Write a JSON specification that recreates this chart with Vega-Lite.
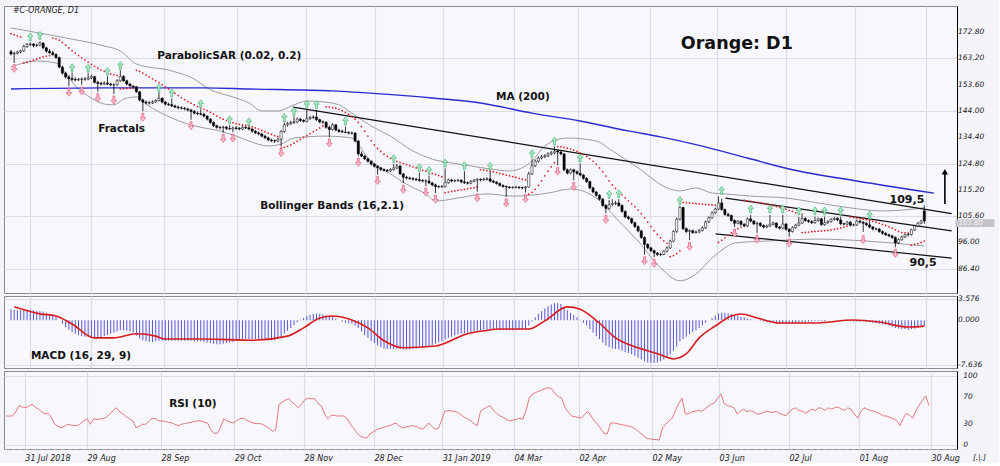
{
"$schema":"https://vega.github.io/schema/vega-lite/v6.json",
"background":"#f4f4fa",
"padding":{"left":3,"top":5,"right":4,"bottom":0},
"spacing":3,
"bounds":"flush",
"datasets":{
"c":[
{"i":0,"o":165.6,"h":166.3,"l":164.2,"c":164.8,"s":172.2,"m":1.9,"r":42},
{"i":1,"o":164.8,"h":165.6,"l":161.5,"c":165.0,"s":171.8,"m":1.8,"r":42},
{"i":2,"o":165.0,"h":166.0,"l":164.6,"c":165.5,"s":171.4,"m":1.7,"r":42},
{"i":3,"o":165.5,"h":166.4,"l":165.0,"c":165.9,"s":171.0,"m":1.7,"r":48},
{"i":4,"o":165.9,"h":168.2,"l":165.6,"c":167.5,"s":161.5,"m":1.8,"r":57},
{"i":5,"o":167.5,"h":168.8,"l":167.0,"c":168.3,"s":161.8,"m":1.8,"r":55},
{"i":6,"o":168.3,"h":168.9,"l":167.6,"c":168.4,"s":162.1,"m":1.8,"r":54},
{"i":7,"o":168.4,"h":168.8,"l":167.2,"c":167.9,"s":162.5,"m":1.7,"r":56},
{"i":8,"o":167.9,"h":168.6,"l":167.3,"c":168.0,"s":162.9,"m":1.6,"r":59},
{"i":9,"o":168.0,"h":169.4,"l":167.6,"c":168.8,"s":163.3,"m":1.6,"r":55},
{"i":10,"o":168.8,"h":169.0,"l":166.5,"c":167.0,"s":163.7,"m":1.5,"r":52},
{"i":11,"o":167.0,"h":167.5,"l":165.2,"c":165.8,"s":164.0,"m":1.3,"r":48},
{"i":12,"o":165.8,"h":166.6,"l":164.8,"c":165.2,"s":164.2,"m":1.1,"r":45},
{"i":13,"o":165.2,"h":165.9,"l":164.1,"c":164.6,"s":170.6,"m":0.9,"r":46},
{"i":14,"o":164.6,"h":165.0,"l":163.0,"c":163.5,"s":170.3,"m":0.6,"r":40},
{"i":15,"o":163.5,"h":163.8,"l":159.5,"c":160.0,"s":169.8,"m":0.0,"r":30},
{"i":16,"o":160.0,"h":160.5,"l":157.2,"c":157.8,"s":169.0,"m":-0.6,"r":27},
{"i":17,"o":157.8,"h":158.3,"l":155.8,"c":156.4,"s":168.0,"m":-1.2,"r":25},
{"i":18,"o":156.4,"h":157.0,"l":153.0,"c":155.8,"s":167.0,"m":-1.6,"r":27},
{"i":19,"o":155.8,"h":158.0,"l":155.0,"c":155.5,"s":166.0,"m":-2.0,"r":30},
{"i":20,"o":155.5,"h":156.3,"l":154.8,"c":155.3,"s":165.1,"m":-2.3,"r":29},
{"i":21,"o":155.3,"h":156.0,"l":154.9,"c":155.5,"s":164.2,"m":-2.5,"r":28},
{"i":22,"o":155.5,"h":156.2,"l":153.5,"c":155.6,"s":163.4,"m":-2.7,"r":28},
{"i":23,"o":155.6,"h":156.3,"l":155.0,"c":155.6,"s":162.6,"m":-2.8,"r":31},
{"i":24,"o":155.6,"h":157.8,"l":155.2,"c":156.0,"s":161.8,"m":-2.8,"r":35},
{"i":25,"o":156.0,"h":157.2,"l":155.6,"c":156.5,"s":161.0,"m":-2.8,"r":38},
{"i":26,"o":156.5,"h":156.8,"l":154.0,"c":154.4,"s":160.3,"m":-3.0,"r":30},
{"i":27,"o":154.4,"h":155.0,"l":151.0,"c":154.0,"s":159.6,"m":-3.0,"r":38},
{"i":28,"o":154.0,"h":154.7,"l":153.3,"c":153.8,"s":159.0,"m":-2.9,"r":37},
{"i":29,"o":153.8,"h":154.8,"l":153.4,"c":154.2,"s":158.4,"m":-2.7,"r":38},
{"i":30,"o":154.2,"h":156.6,"l":153.4,"c":153.8,"s":157.9,"m":-2.5,"r":38},
{"i":31,"o":153.8,"h":154.3,"l":153.0,"c":153.5,"s":157.5,"m":-2.3,"r":41},
{"i":32,"o":153.5,"h":154.0,"l":150.2,"c":153.5,"s":157.2,"m":-2.1,"r":45},
{"i":33,"o":153.5,"h":155.6,"l":153.2,"c":155.0,"s":157.0,"m":-1.9,"r":50},
{"i":34,"o":155.0,"h":158.8,"l":154.6,"c":156.6,"s":152.0,"m":-1.7,"r":54},
{"i":35,"o":156.6,"h":157.0,"l":154.6,"c":155.0,"s":152.1,"m":-1.7,"r":48},
{"i":36,"o":155.0,"h":155.4,"l":153.4,"c":153.8,"s":152.2,"m":-1.8,"r":45},
{"i":37,"o":153.8,"h":154.2,"l":152.8,"c":153.1,"s":152.3,"m":-1.9,"r":41},
{"i":38,"o":153.1,"h":153.4,"l":152.5,"c":152.8,"s":152.4,"m":-2.1,"r":38},
{"i":39,"o":152.8,"h":153.0,"l":150.6,"c":151.0,"s":158.8,"m":-2.6,"r":35},
{"i":40,"o":151.0,"h":151.3,"l":147.5,"c":148.0,"s":158.4,"m":-3.1,"r":25},
{"i":41,"o":148.0,"h":148.5,"l":143.9,"c":147.2,"s":157.8,"m":-3.4,"r":27},
{"i":42,"o":147.2,"h":147.8,"l":146.4,"c":146.9,"s":157.1,"m":-3.6,"r":30},
{"i":43,"o":146.9,"h":147.6,"l":146.3,"c":146.9,"s":156.4,"m":-3.7,"r":30},
{"i":44,"o":146.9,"h":147.9,"l":146.5,"c":147.3,"s":155.7,"m":-3.7,"r":34},
{"i":45,"o":147.3,"h":148.3,"l":146.9,"c":147.8,"s":155.0,"m":-3.6,"r":39},
{"i":46,"o":147.8,"h":150.8,"l":147.4,"c":148.6,"s":154.3,"m":-3.5,"r":38},
{"i":47,"o":148.6,"h":149.0,"l":146.8,"c":147.2,"s":153.6,"m":-3.5,"r":35},
{"i":48,"o":147.2,"h":147.7,"l":146.0,"c":146.5,"s":152.8,"m":-3.5,"r":35},
{"i":49,"o":146.5,"h":147.0,"l":145.8,"c":146.3,"s":152.0,"m":-3.5,"r":34},
{"i":50,"o":146.3,"h":148.6,"l":145.4,"c":145.8,"s":151.2,"m":-3.5,"r":33},
{"i":51,"o":145.8,"h":146.3,"l":145.0,"c":145.4,"s":150.4,"m":-3.5,"r":32},
{"i":52,"o":145.4,"h":145.9,"l":144.6,"c":145.1,"s":149.6,"m":-3.5,"r":30},
{"i":53,"o":145.1,"h":145.7,"l":144.5,"c":145.0,"s":148.8,"m":-3.5,"r":28},
{"i":54,"o":145.0,"h":145.5,"l":144.2,"c":144.7,"s":148.1,"m":-3.5,"r":30},
{"i":55,"o":144.7,"h":145.2,"l":143.8,"c":144.3,"s":147.4,"m":-3.5,"r":31},
{"i":56,"o":144.3,"h":144.8,"l":140.8,"c":143.8,"s":146.8,"m":-3.5,"r":32},
{"i":57,"o":143.8,"h":144.3,"l":142.7,"c":143.2,"s":146.2,"m":-3.6,"r":33},
{"i":58,"o":143.2,"h":143.8,"l":142.5,"c":143.0,"s":145.6,"m":-3.6,"r":34},
{"i":59,"o":143.0,"h":144.6,"l":142.3,"c":142.8,"s":145.1,"m":-3.6,"r":35},
{"i":60,"o":142.8,"h":143.3,"l":141.6,"c":142.1,"s":144.6,"m":-3.7,"r":35},
{"i":61,"o":142.1,"h":142.4,"l":140.5,"c":141.0,"s":144.1,"m":-3.8,"r":33},
{"i":62,"o":141.0,"h":141.4,"l":139.3,"c":139.8,"s":143.5,"m":-3.9,"r":32},
{"i":63,"o":139.8,"h":140.2,"l":138.1,"c":138.6,"s":142.8,"m":-4.0,"r":22},
{"i":64,"o":138.6,"h":139.0,"l":137.5,"c":138.0,"s":142.1,"m":-4.1,"r":17},
{"i":65,"o":138.0,"h":138.5,"l":137.2,"c":137.9,"s":141.5,"m":-4.1,"r":17},
{"i":66,"o":137.9,"h":138.6,"l":136.0,"c":138.1,"s":141.0,"m":-4.0,"r":25},
{"i":67,"o":138.1,"h":138.5,"l":137.0,"c":137.6,"s":140.5,"m":-3.9,"r":38},
{"i":68,"o":137.6,"h":138.9,"l":137.0,"c":137.4,"s":140.1,"m":-3.8,"r":35},
{"i":69,"o":137.4,"h":138.3,"l":136.2,"c":137.8,"s":139.7,"m":-3.7,"r":33},
{"i":70,"o":137.8,"h":138.4,"l":137.1,"c":137.6,"s":139.4,"m":-3.5,"r":32},
{"i":71,"o":137.6,"h":138.1,"l":136.9,"c":137.4,"s":139.1,"m":-3.4,"r":35},
{"i":72,"o":137.4,"h":138.5,"l":137.0,"c":138.0,"s":138.9,"m":-3.3,"r":38},
{"i":73,"o":138.0,"h":138.4,"l":137.3,"c":137.8,"s":138.7,"m":-3.2,"r":39},
{"i":74,"o":137.8,"h":138.3,"l":136.9,"c":137.4,"s":138.5,"m":-3.2,"r":36},
{"i":75,"o":137.4,"h":137.8,"l":136.1,"c":136.6,"s":138.2,"m":-3.2,"r":34},
{"i":76,"o":136.6,"h":137.0,"l":135.5,"c":136.0,"s":137.8,"m":-3.2,"r":32},
{"i":77,"o":136.0,"h":136.5,"l":135.1,"c":135.6,"s":137.4,"m":-3.3,"r":31},
{"i":78,"o":135.6,"h":136.0,"l":134.3,"c":134.8,"s":136.9,"m":-3.3,"r":31},
{"i":79,"o":134.8,"h":135.3,"l":133.7,"c":134.2,"s":136.4,"m":-3.4,"r":30},
{"i":80,"o":134.2,"h":134.6,"l":132.9,"c":133.4,"s":135.9,"m":-3.4,"r":27},
{"i":81,"o":133.4,"h":133.9,"l":132.6,"c":133.1,"s":135.4,"m":-3.4,"r":24},
{"i":82,"o":133.1,"h":133.6,"l":132.3,"c":133.0,"s":135.0,"m":-3.4,"r":20},
{"i":83,"o":133.0,"h":134.2,"l":132.6,"c":133.7,"s":134.7,"m":-3.2,"r":22},
{"i":84,"o":133.7,"h":137.0,"l":131.0,"c":136.5,"s":130.4,"m":-2.8,"r":59},
{"i":85,"o":136.5,"h":139.8,"l":136.0,"c":138.9,"s":130.7,"m":-2.3,"r":62},
{"i":86,"o":138.9,"h":140.0,"l":138.3,"c":139.4,"s":131.1,"m":-1.8,"r":65},
{"i":87,"o":139.4,"h":140.4,"l":138.8,"c":139.8,"s":131.6,"m":-1.3,"r":67},
{"i":88,"o":139.8,"h":142.0,"l":139.2,"c":140.0,"s":132.2,"m":-0.8,"r":62},
{"i":89,"o":140.0,"h":141.6,"l":139.5,"c":141.0,"s":132.9,"m":-0.3,"r":58},
{"i":90,"o":141.0,"h":141.5,"l":140.0,"c":140.5,"s":133.6,"m":0.1,"r":54},
{"i":91,"o":140.5,"h":141.0,"l":139.7,"c":140.2,"s":134.3,"m":0.4,"r":60},
{"i":92,"o":140.2,"h":144.5,"l":139.8,"c":141.2,"s":135.0,"m":0.7,"r":66},
{"i":93,"o":141.2,"h":142.2,"l":140.7,"c":141.6,"s":135.7,"m":0.9,"r":68},
{"i":94,"o":141.6,"h":142.4,"l":141.0,"c":141.8,"s":136.4,"m":1.1,"r":67},
{"i":95,"o":141.8,"h":144.4,"l":140.3,"c":140.8,"s":137.1,"m":1.1,"r":67},
{"i":96,"o":140.8,"h":141.2,"l":139.5,"c":140.0,"s":137.8,"m":1.1,"r":60},
{"i":97,"o":140.0,"h":140.5,"l":139.3,"c":139.9,"s":138.5,"m":1.0,"r":57},
{"i":98,"o":139.9,"h":140.2,"l":137.5,"c":138.0,"s":145.5,"m":0.8,"r":45},
{"i":99,"o":138.0,"h":138.6,"l":134.5,"c":137.2,"s":145.4,"m":0.6,"r":38},
{"i":100,"o":137.2,"h":139.5,"l":136.8,"c":138.9,"s":145.2,"m":0.6,"r":43},
{"i":101,"o":138.9,"h":139.2,"l":136.6,"c":137.0,"s":145.0,"m":0.3,"r":43},
{"i":102,"o":137.0,"h":137.5,"l":136.0,"c":136.5,"s":144.6,"m":0.0,"r":42},
{"i":103,"o":136.5,"h":137.2,"l":135.8,"c":136.3,"s":144.1,"m":-0.2,"r":42},
{"i":104,"o":136.3,"h":138.3,"l":135.8,"c":136.1,"s":143.5,"m":-0.4,"r":42},
{"i":105,"o":136.1,"h":136.6,"l":135.4,"c":135.9,"s":142.8,"m":-0.5,"r":38},
{"i":106,"o":135.9,"h":136.5,"l":135.3,"c":135.9,"s":142.0,"m":-0.6,"r":30},
{"i":107,"o":135.9,"h":136.2,"l":132.5,"c":133.0,"s":141.0,"m":-0.9,"r":24},
{"i":108,"o":133.0,"h":133.4,"l":127.5,"c":128.3,"s":139.8,"m":-1.3,"r":17},
{"i":109,"o":128.3,"h":129.2,"l":127.1,"c":127.5,"s":138.3,"m":-1.9,"r":13},
{"i":110,"o":127.5,"h":127.9,"l":126.0,"c":126.5,"s":136.6,"m":-2.5,"r":11},
{"i":111,"o":126.5,"h":126.9,"l":125.1,"c":125.6,"s":134.8,"m":-3.0,"r":10},
{"i":112,"o":125.6,"h":126.0,"l":124.1,"c":124.6,"s":133.1,"m":-3.5,"r":16},
{"i":113,"o":124.6,"h":125.0,"l":123.3,"c":123.8,"s":131.6,"m":-3.9,"r":19},
{"i":114,"o":123.8,"h":124.2,"l":120.8,"c":123.2,"s":130.3,"m":-4.3,"r":22},
{"i":115,"o":123.2,"h":123.6,"l":122.1,"c":122.6,"s":129.2,"m":-4.6,"r":24},
{"i":116,"o":122.6,"h":123.0,"l":121.8,"c":122.3,"s":128.2,"m":-4.8,"r":25},
{"i":117,"o":122.3,"h":122.8,"l":121.6,"c":122.1,"s":127.4,"m":-4.9,"r":27},
{"i":118,"o":122.1,"h":123.1,"l":121.7,"c":122.6,"s":126.7,"m":-4.9,"r":28},
{"i":119,"o":122.6,"h":124.6,"l":122.2,"c":123.2,"s":126.1,"m":-4.9,"r":30},
{"i":120,"o":123.2,"h":124.6,"l":122.8,"c":123.9,"s":125.6,"m":-4.8,"r":32},
{"i":121,"o":123.9,"h":124.2,"l":120.6,"c":121.0,"s":125.2,"m":-4.9,"r":27},
{"i":122,"o":121.0,"h":121.3,"l":117.6,"c":119.8,"s":124.8,"m":-5.0,"r":25},
{"i":123,"o":119.8,"h":120.3,"l":119.0,"c":119.5,"s":124.4,"m":-5.0,"r":26},
{"i":124,"o":119.5,"h":120.0,"l":118.8,"c":119.3,"s":124.0,"m":-5.0,"r":27},
{"i":125,"o":119.3,"h":119.8,"l":118.6,"c":119.1,"s":123.6,"m":-4.9,"r":28},
{"i":126,"o":119.1,"h":119.6,"l":118.4,"c":118.9,"s":123.2,"m":-4.8,"r":27},
{"i":127,"o":118.9,"h":121.4,"l":118.1,"c":118.6,"s":122.8,"m":-4.7,"r":25},
{"i":128,"o":118.6,"h":119.1,"l":117.9,"c":118.4,"s":122.4,"m":-4.6,"r":23},
{"i":129,"o":118.4,"h":119.0,"l":116.6,"c":118.4,"s":122.0,"m":-4.5,"r":26},
{"i":130,"o":118.4,"h":120.4,"l":117.2,"c":117.7,"s":121.6,"m":-4.4,"r":32},
{"i":131,"o":117.7,"h":118.1,"l":116.5,"c":117.0,"s":121.2,"m":-4.2,"r":27},
{"i":132,"o":117.0,"h":117.4,"l":114.0,"c":116.4,"s":120.8,"m":-4.0,"r":23},
{"i":133,"o":116.4,"h":116.9,"l":115.8,"c":116.3,"s":120.4,"m":-3.8,"r":24},
{"i":134,"o":116.3,"h":116.9,"l":115.9,"c":116.4,"s":120.0,"m":-3.6,"r":35},
{"i":135,"o":116.4,"h":123.0,"l":116.0,"c":117.8,"s":114.2,"m":-3.3,"r":49},
{"i":136,"o":117.8,"h":119.3,"l":117.4,"c":118.8,"s":114.4,"m":-3.0,"r":50},
{"i":137,"o":118.8,"h":119.2,"l":117.9,"c":118.4,"s":114.6,"m":-2.8,"r":49},
{"i":138,"o":118.4,"h":119.1,"l":118.0,"c":118.6,"s":114.8,"m":-2.6,"r":49},
{"i":139,"o":118.6,"h":119.2,"l":118.1,"c":118.7,"s":115.0,"m":-2.4,"r":47},
{"i":140,"o":118.7,"h":119.1,"l":117.6,"c":118.1,"s":115.2,"m":-2.3,"r":44},
{"i":141,"o":118.1,"h":122.0,"l":117.3,"c":117.8,"s":115.4,"m":-2.2,"r":40},
{"i":142,"o":117.8,"h":118.2,"l":117.1,"c":117.6,"s":115.6,"m":-2.1,"r":38},
{"i":143,"o":117.6,"h":118.8,"l":117.2,"c":118.3,"s":115.8,"m":-2.0,"r":35},
{"i":144,"o":118.3,"h":119.2,"l":117.9,"c":118.7,"s":116.0,"m":-1.9,"r":31},
{"i":145,"o":118.7,"h":119.5,"l":114.5,"c":119.0,"s":116.2,"m":-1.8,"r":28},
{"i":146,"o":119.0,"h":119.4,"l":118.3,"c":118.8,"s":122.6,"m":-1.7,"r":49},
{"i":147,"o":118.8,"h":119.6,"l":118.5,"c":119.0,"s":122.4,"m":-1.6,"r":52},
{"i":148,"o":119.0,"h":119.8,"l":118.6,"c":119.2,"s":122.2,"m":-1.6,"r":55},
{"i":149,"o":119.2,"h":121.8,"l":117.9,"c":118.4,"s":122.0,"m":-1.6,"r":57},
{"i":150,"o":118.4,"h":118.8,"l":117.6,"c":118.0,"s":121.8,"m":-1.6,"r":50},
{"i":151,"o":118.0,"h":118.4,"l":117.1,"c":117.5,"s":121.5,"m":-1.6,"r":46},
{"i":152,"o":117.5,"h":117.9,"l":116.4,"c":116.8,"s":121.2,"m":-1.7,"r":42},
{"i":153,"o":116.8,"h":117.2,"l":116.0,"c":116.4,"s":120.9,"m":-1.7,"r":40},
{"i":154,"o":116.4,"h":116.8,"l":112.6,"c":116.2,"s":120.6,"m":-1.7,"r":37},
{"i":155,"o":116.2,"h":116.6,"l":115.6,"c":116.0,"s":120.3,"m":-1.7,"r":35},
{"i":156,"o":116.0,"h":116.5,"l":115.6,"c":116.1,"s":120.0,"m":-1.7,"r":36},
{"i":157,"o":116.1,"h":116.6,"l":115.7,"c":116.2,"s":119.7,"m":-1.7,"r":37},
{"i":158,"o":116.2,"h":116.5,"l":115.5,"c":116.0,"s":119.4,"m":-1.6,"r":39},
{"i":159,"o":116.0,"h":116.4,"l":115.4,"c":115.9,"s":119.1,"m":-1.6,"r":37},
{"i":160,"o":115.9,"h":116.6,"l":114.2,"c":116.2,"s":118.8,"m":-1.5,"r":50},
{"i":161,"o":116.2,"h":121.8,"l":116.0,"c":121.0,"s":113.6,"m":-0.9,"r":68},
{"i":162,"o":121.0,"h":126.4,"l":120.6,"c":124.0,"s":114.3,"m":-0.2,"r":74},
{"i":163,"o":124.0,"h":126.3,"l":123.5,"c":125.7,"s":115.4,"m":0.5,"r":76},
{"i":164,"o":125.7,"h":127.4,"l":125.2,"c":126.8,"s":116.8,"m":1.1,"r":78},
{"i":165,"o":126.8,"h":127.9,"l":126.3,"c":127.3,"s":118.5,"m":1.6,"r":80},
{"i":166,"o":127.3,"h":128.2,"l":126.8,"c":127.6,"s":120.3,"m":2.0,"r":82},
{"i":167,"o":127.6,"h":128.9,"l":127.1,"c":128.3,"s":122.0,"m":2.4,"r":83},
{"i":168,"o":128.3,"h":129.4,"l":127.8,"c":128.7,"s":123.6,"m":2.7,"r":81},
{"i":169,"o":128.7,"h":131.0,"l":128.2,"c":129.3,"s":125.1,"m":2.9,"r":74},
{"i":170,"o":129.3,"h":129.8,"l":124.2,"c":129.0,"s":131.0,"m":2.9,"r":70},
{"i":171,"o":129.0,"h":129.5,"l":127.8,"c":128.3,"s":130.9,"m":2.8,"r":68},
{"i":172,"o":128.3,"h":128.6,"l":122.0,"c":122.5,"s":130.7,"m":2.2,"r":54},
{"i":173,"o":122.5,"h":123.0,"l":120.8,"c":121.3,"s":130.4,"m":1.7,"r":48},
{"i":174,"o":121.3,"h":123.0,"l":120.9,"c":122.5,"s":130.1,"m":1.3,"r":42},
{"i":175,"o":122.5,"h":122.9,"l":118.6,"c":121.8,"s":129.7,"m":0.9,"r":41},
{"i":176,"o":121.8,"h":122.3,"l":120.7,"c":121.2,"s":129.2,"m":0.5,"r":40},
{"i":177,"o":121.2,"h":124.8,"l":120.1,"c":120.6,"s":128.7,"m":0.1,"r":39},
{"i":178,"o":120.6,"h":121.0,"l":118.9,"c":119.4,"s":128.1,"m":-0.4,"r":44},
{"i":179,"o":119.4,"h":119.8,"l":117.7,"c":118.2,"s":127.4,"m":-0.9,"r":49},
{"i":180,"o":118.2,"h":118.5,"l":115.4,"c":115.9,"s":126.6,"m":-1.5,"r":42},
{"i":181,"o":115.9,"h":116.3,"l":113.9,"c":114.4,"s":125.6,"m":-2.1,"r":35},
{"i":182,"o":114.4,"h":114.8,"l":112.7,"c":113.2,"s":124.5,"m":-2.7,"r":30},
{"i":183,"o":113.2,"h":113.6,"l":111.3,"c":111.8,"s":123.2,"m":-3.2,"r":24},
{"i":184,"o":111.8,"h":112.2,"l":109.0,"c":109.5,"s":121.8,"m":-3.8,"r":17},
{"i":185,"o":109.5,"h":110.0,"l":106.6,"c":108.4,"s":120.2,"m":-4.3,"r":16},
{"i":186,"o":108.4,"h":111.5,"l":108.0,"c":109.8,"s":118.5,"m":-4.6,"r":32},
{"i":187,"o":109.8,"h":111.8,"l":109.2,"c":110.2,"s":117.0,"m":-4.8,"r":32},
{"i":188,"o":110.2,"h":111.2,"l":109.6,"c":110.4,"s":115.7,"m":-4.9,"r":31},
{"i":189,"o":110.4,"h":111.8,"l":109.0,"c":109.5,"s":114.5,"m":-5.0,"r":30},
{"i":190,"o":109.5,"h":109.9,"l":106.8,"c":107.3,"s":113.4,"m":-5.2,"r":29},
{"i":191,"o":107.3,"h":107.7,"l":104.8,"c":105.3,"s":112.3,"m":-5.4,"r":28},
{"i":192,"o":105.3,"h":105.8,"l":104.2,"c":104.7,"s":111.2,"m":-5.6,"r":27},
{"i":193,"o":104.7,"h":105.1,"l":102.7,"c":103.2,"s":110.1,"m":-5.8,"r":25},
{"i":194,"o":103.2,"h":103.6,"l":101.3,"c":101.8,"s":109.0,"m":-6.1,"r":22},
{"i":195,"o":101.8,"h":102.2,"l":99.7,"c":100.2,"s":107.8,"m":-6.4,"r":18},
{"i":196,"o":100.2,"h":100.6,"l":97.3,"c":97.8,"s":106.5,"m":-6.7,"r":14},
{"i":197,"o":97.8,"h":98.2,"l":91.5,"c":95.3,"s":105.0,"m":-7.0,"r":10},
{"i":198,"o":95.3,"h":95.7,"l":93.5,"c":94.0,"s":103.4,"m":-7.2,"r":9},
{"i":199,"o":94.0,"h":94.4,"l":92.5,"c":93.0,"s":101.8,"m":-7.3,"r":8},
{"i":200,"o":93.0,"h":93.4,"l":90.6,"c":92.1,"s":100.3,"m":-7.3,"r":8},
{"i":201,"o":92.1,"h":92.5,"l":91.0,"c":91.6,"s":98.9,"m":-7.2,"r":7},
{"i":202,"o":91.6,"h":92.3,"l":91.0,"c":91.6,"s":97.7,"m":-7.0,"r":25},
{"i":203,"o":91.6,"h":93.2,"l":91.3,"c":92.8,"s":96.6,"m":-6.7,"r":30},
{"i":204,"o":92.8,"h":94.6,"l":92.4,"c":94.0,"s":95.7,"m":-6.3,"r":35},
{"i":205,"o":94.0,"h":97.0,"l":93.6,"c":96.5,"s":90.8,"m":-5.8,"r":39},
{"i":206,"o":96.5,"h":100.5,"l":96.0,"c":100.0,"s":91.2,"m":-5.2,"r":50},
{"i":207,"o":100.0,"h":105.0,"l":99.5,"c":104.5,"s":91.9,"m":-4.5,"r":60},
{"i":208,"o":104.5,"h":109.3,"l":104.0,"c":108.8,"s":92.9,"m":-3.6,"r":68},
{"i":209,"o":108.8,"h":109.0,"l":100.5,"c":101.0,"s":110.6,"m":-3.2,"r":45},
{"i":210,"o":101.0,"h":101.5,"l":99.5,"c":100.0,"s":110.5,"m":-2.8,"r":45},
{"i":211,"o":100.0,"h":100.8,"l":96.8,"c":100.3,"s":110.4,"m":-2.4,"r":48},
{"i":212,"o":100.3,"h":100.7,"l":99.1,"c":99.6,"s":110.3,"m":-2.0,"r":49},
{"i":213,"o":99.6,"h":100.3,"l":99.2,"c":99.8,"s":110.2,"m":-1.7,"r":50},
{"i":214,"o":99.8,"h":100.9,"l":99.4,"c":100.4,"s":110.1,"m":-1.3,"r":49},
{"i":215,"o":100.4,"h":101.8,"l":100.0,"c":101.3,"s":110.0,"m":-0.9,"r":52},
{"i":216,"o":101.3,"h":104.0,"l":100.9,"c":103.5,"s":109.9,"m":-0.4,"r":56},
{"i":217,"o":103.5,"h":105.5,"l":103.1,"c":105.0,"s":109.8,"m":0.0,"r":59},
{"i":218,"o":105.0,"h":107.3,"l":104.6,"c":106.8,"s":109.7,"m":0.4,"r":61},
{"i":219,"o":106.8,"h":108.7,"l":106.3,"c":108.2,"s":109.6,"m":0.8,"r":68},
{"i":220,"o":108.2,"h":112.8,"l":107.8,"c":110.4,"s":96.0,"m":1.2,"r":74},
{"i":221,"o":110.4,"h":112.0,"l":107.5,"c":108.0,"s":96.8,"m":1.3,"r":60},
{"i":222,"o":108.0,"h":108.4,"l":105.7,"c":106.2,"s":97.7,"m":1.3,"r":57},
{"i":223,"o":106.2,"h":106.8,"l":105.3,"c":105.8,"s":98.6,"m":1.2,"r":56},
{"i":224,"o":105.8,"h":106.2,"l":103.5,"c":104.0,"s":99.5,"m":1.1,"r":54},
{"i":225,"o":104.0,"h":104.4,"l":101.6,"c":103.0,"s":100.3,"m":0.9,"r":45},
{"i":226,"o":103.0,"h":104.2,"l":102.6,"c":103.7,"s":101.0,"m":0.8,"r":49},
{"i":227,"o":103.7,"h":104.1,"l":102.1,"c":102.6,"s":101.6,"m":0.6,"r":52},
{"i":228,"o":102.6,"h":103.0,"l":101.5,"c":102.0,"s":111.4,"m":0.5,"r":48},
{"i":229,"o":102.0,"h":105.1,"l":101.6,"c":104.6,"s":111.2,"m":0.3,"r":50},
{"i":230,"o":104.6,"h":106.0,"l":103.3,"c":103.8,"s":111.0,"m":0.2,"r":48},
{"i":231,"o":103.8,"h":104.2,"l":102.3,"c":102.8,"s":110.8,"m":0.1,"r":45},
{"i":232,"o":102.8,"h":103.5,"l":99.4,"c":103.0,"s":110.6,"m":0.0,"r":45},
{"i":233,"o":103.0,"h":103.4,"l":101.7,"c":102.2,"s":110.4,"m":-0.1,"r":47},
{"i":234,"o":102.2,"h":102.6,"l":101.1,"c":101.6,"s":110.2,"m":-0.2,"r":49},
{"i":235,"o":101.6,"h":102.5,"l":101.2,"c":102.0,"s":110.0,"m":-0.3,"r":48},
{"i":236,"o":102.0,"h":106.0,"l":101.6,"c":102.6,"s":109.7,"m":-0.4,"r":47},
{"i":237,"o":102.6,"h":103.6,"l":102.2,"c":103.1,"s":109.4,"m":-0.4,"r":49},
{"i":238,"o":103.1,"h":103.4,"l":101.1,"c":101.6,"s":109.1,"m":-0.5,"r":46},
{"i":239,"o":101.6,"h":102.0,"l":100.7,"c":101.2,"s":108.8,"m":-0.5,"r":44},
{"i":240,"o":101.2,"h":106.0,"l":100.8,"c":102.7,"s":108.5,"m":-0.5,"r":42},
{"i":241,"o":102.7,"h":103.1,"l":100.3,"c":100.8,"s":108.1,"m":-0.6,"r":48},
{"i":242,"o":100.8,"h":101.2,"l":98.0,"c":100.0,"s":107.7,"m":-0.6,"r":52},
{"i":243,"o":100.0,"h":101.9,"l":99.6,"c":101.4,"s":107.3,"m":-0.5,"r":54},
{"i":244,"o":101.4,"h":102.8,"l":101.0,"c":102.3,"s":106.8,"m":-0.5,"r":50},
{"i":245,"o":102.3,"h":105.3,"l":101.9,"c":103.1,"s":106.3,"m":-0.4,"r":49},
{"i":246,"o":103.1,"h":106.6,"l":102.7,"c":104.7,"s":99.6,"m":-0.3,"r":46},
{"i":247,"o":104.7,"h":105.2,"l":103.5,"c":104.0,"s":99.7,"m":-0.3,"r":49},
{"i":248,"o":104.0,"h":104.5,"l":103.1,"c":103.6,"s":99.8,"m":-0.2,"r":52},
{"i":249,"o":103.6,"h":104.1,"l":102.7,"c":103.2,"s":99.9,"m":-0.2,"r":50},
{"i":250,"o":103.2,"h":105.4,"l":102.8,"c":104.0,"s":100.0,"m":-0.1,"r":54},
{"i":251,"o":104.0,"h":105.1,"l":103.6,"c":104.6,"s":100.1,"m":-0.1,"r":53},
{"i":252,"o":104.6,"h":105.0,"l":102.0,"c":102.5,"s":100.2,"m":-0.1,"r":50},
{"i":253,"o":102.5,"h":105.4,"l":102.1,"c":103.2,"s":100.3,"m":-0.1,"r":54},
{"i":254,"o":103.2,"h":104.1,"l":102.8,"c":103.6,"s":100.4,"m":0.0,"r":52},
{"i":255,"o":103.6,"h":104.9,"l":103.2,"c":104.4,"s":100.6,"m":0.0,"r":54},
{"i":256,"o":104.4,"h":105.3,"l":104.0,"c":104.8,"s":100.8,"m":0.0,"r":55},
{"i":257,"o":104.8,"h":105.2,"l":103.7,"c":104.2,"s":101.0,"m":0.0,"r":52},
{"i":258,"o":104.2,"h":105.4,"l":102.3,"c":102.8,"s":101.3,"m":-0.1,"r":50},
{"i":259,"o":102.8,"h":103.2,"l":102.2,"c":102.7,"s":101.6,"m":-0.1,"r":54},
{"i":260,"o":102.7,"h":103.9,"l":102.3,"c":103.4,"s":101.9,"m":-0.1,"r":52},
{"i":261,"o":103.4,"h":103.8,"l":101.8,"c":102.3,"s":105.3,"m":-0.1,"r":45},
{"i":262,"o":102.3,"h":102.9,"l":101.9,"c":102.4,"s":105.1,"m":-0.2,"r":39},
{"i":263,"o":102.4,"h":104.3,"l":102.0,"c":103.8,"s":104.9,"m":-0.2,"r":48},
{"i":264,"o":103.8,"h":104.2,"l":102.9,"c":103.4,"s":104.7,"m":-0.2,"r":54},
{"i":265,"o":103.4,"h":103.8,"l":99.8,"c":103.0,"s":104.5,"m":-0.2,"r":52},
{"i":266,"o":103.0,"h":103.4,"l":101.9,"c":102.4,"s":104.3,"m":-0.3,"r":50},
{"i":267,"o":102.4,"h":103.8,"l":101.1,"c":101.6,"s":104.0,"m":-0.3,"r":49},
{"i":268,"o":101.6,"h":102.0,"l":100.4,"c":100.9,"s":103.7,"m":-0.4,"r":47},
{"i":269,"o":100.9,"h":101.4,"l":100.4,"c":100.9,"s":103.4,"m":-0.5,"r":45},
{"i":270,"o":100.9,"h":101.3,"l":99.5,"c":100.0,"s":103.0,"m":-0.6,"r":42},
{"i":271,"o":100.0,"h":100.4,"l":98.8,"c":99.3,"s":102.6,"m":-0.7,"r":42},
{"i":272,"o":99.3,"h":99.8,"l":98.3,"c":98.8,"s":102.2,"m":-0.8,"r":40},
{"i":273,"o":98.8,"h":99.2,"l":97.9,"c":98.4,"s":101.7,"m":-0.9,"r":38},
{"i":274,"o":98.4,"h":98.8,"l":97.3,"c":97.8,"s":101.2,"m":-1.1,"r":36},
{"i":275,"o":97.8,"h":98.2,"l":94.2,"c":95.8,"s":100.6,"m":-1.3,"r":28},
{"i":276,"o":95.8,"h":97.5,"l":95.4,"c":97.0,"s":100.0,"m":-1.4,"r":38},
{"i":277,"o":97.0,"h":98.5,"l":96.6,"c":98.0,"s":99.6,"m":-1.5,"r":46},
{"i":278,"o":98.0,"h":99.2,"l":97.6,"c":98.8,"s":99.5,"m":-1.5,"r":43},
{"i":279,"o":98.8,"h":99.3,"l":98.2,"c":98.9,"s":99.4,"m":-1.6,"r":39},
{"i":280,"o":98.9,"h":101.0,"l":98.5,"c":100.6,"s":95.0,"m":-1.5,"r":50},
{"i":281,"o":100.6,"h":102.4,"l":100.2,"c":102.0,"s":95.3,"m":-1.4,"r":58},
{"i":282,"o":102.0,"h":103.4,"l":101.6,"c":103.0,"s":95.6,"m":-1.3,"r":65},
{"i":283,"o":103.0,"h":104.3,"l":102.6,"c":103.8,"s":96.0,"m":-1.1,"r":71},
{"i":284,"o":107.5,"h":109.5,"l":102.8,"c":103.8,"s":96.5,"m":-1.0,"r":57}
],
"sig":[{"i":1,"v":2.3},{"i":9,"v":1.1},{"i":14,"v":0.74},{"i":19,"v":-0.63},{"i":26,"v":-3.0},{"i":32,"v":-3.0},{"i":39,"v":-2.3},{"i":45,"v":-2.7},{"i":48,"v":-3.2},{"i":60,"v":-3.2},{"i":75,"v":-3.4},{"i":86,"v":-2.7},{"i":91,"v":-1.3},{"i":96,"v":0.4},{"i":100,"v":0.74},{"i":106,"v":0.05},{"i":111,"v":-1.3},{"i":116,"v":-3.5},{"i":122,"v":-4.7},{"i":132,"v":-4.4},{"i":142,"v":-2.3},{"i":147,"v":-1.8},{"i":152,"v":-1.5},{"i":161,"v":-1.5},{"i":166,"v":-0.1},{"i":173,"v":2.3},{"i":177,"v":1.9},{"i":183,"v":-0.5},{"i":188,"v":-3.0},{"i":195,"v":-4.7},{"i":201,"v":-5.7},{"i":206,"v":-6.6},{"i":210,"v":-5.7},{"i":214,"v":-3.0},{"i":219,"v":-0.98},{"i":224,"v":0.74},{"i":227,"v":1.08},{"i":232,"v":0.4},{"i":239,"v":-0.46},{"i":250,"v":-0.46},{"i":262,"v":0.05},{"i":270,"v":-0.3},{"i":279,"v":-1.15},{"i":284,"v":-1.0}],
"ma":[{"i":0,"v":152.0},{"i":29,"v":152.4},{"i":60,"v":152.4},{"i":74,"v":152.0},{"i":100,"v":151.3},{"i":115,"v":150.2},{"i":131,"v":148.7},{"i":146,"v":146.9},{"i":162,"v":143.2},{"i":177,"v":140.3},{"i":192,"v":136.7},{"i":202,"v":134.5},{"i":214,"v":131.4},{"i":229,"v":126.8},{"i":242,"v":122.8},{"i":263,"v":118.4},{"i":287,"v":114.0}],
"bb":[
{"b":"u","i":0,"v":174.3},{"b":"u","i":9,"v":172.4},{"b":"u","i":19,"v":170.2},{"b":"u","i":29,"v":167.7},{"b":"u","i":34,"v":165.9},{"b":"u","i":39,"v":161.1},{"b":"u","i":50,"v":158.6},{"b":"u","i":57,"v":155.6},{"b":"u","i":61,"v":152.4},{"b":"u","i":70,"v":148.7},{"b":"u","i":74,"v":146.9},{"b":"u","i":78,"v":144.0},{"b":"u","i":83,"v":144.0},{"b":"u","i":88,"v":146.2},{"b":"u","i":92,"v":147.6},{"b":"u","i":97,"v":147.3},{"b":"u","i":102,"v":146.2},{"b":"u","i":106,"v":143.2},{"b":"u","i":112,"v":138.5},{"b":"u","i":118,"v":134.8},{"b":"u","i":125,"v":129.4},{"b":"u","i":131,"v":126.4},{"b":"u","i":137,"v":125.0},{"b":"u","i":143,"v":123.9},{"b":"u","i":149,"v":122.8},{"b":"u","i":155,"v":122.1},{"b":"u","i":162,"v":125.7},{"b":"u","i":166,"v":131.2},{"b":"u","i":173,"v":134.1},{"b":"u","i":182,"v":133.0},{"b":"u","i":187,"v":129.4},{"b":"u","i":195,"v":123.2},{"b":"u","i":204,"v":115.9},{"b":"u","i":208,"v":114.8},{"b":"u","i":213,"v":115.9},{"b":"u","i":218,"v":114.0},{"b":"u","i":222,"v":113.7},{"b":"u","i":230,"v":112.9},{"b":"u","i":241,"v":112.2},{"b":"u","i":251,"v":110.4},{"b":"u","i":261,"v":108.6},{"b":"u","i":271,"v":107.5},{"b":"u","i":284,"v":108.6},
{"b":"l","i":0,"v":160.0},{"b":"l","i":8,"v":162.2},{"b":"l","i":14,"v":161.5},{"b":"l","i":17,"v":157.8},{"b":"l","i":20,"v":153.1},{"b":"l","i":25,"v":148.7},{"b":"l","i":29,"v":146.5},{"b":"l","i":32,"v":146.2},{"b":"l","i":35,"v":148.3},{"b":"l","i":39,"v":149.1},{"b":"l","i":42,"v":146.5},{"b":"l","i":50,"v":141.4},{"b":"l","i":55,"v":139.2},{"b":"l","i":60,"v":137.8},{"b":"l","i":65,"v":136.7},{"b":"l","i":70,"v":134.8},{"b":"l","i":74,"v":133.0},{"b":"l","i":80,"v":131.2},{"b":"l","i":84,"v":131.9},{"b":"l","i":88,"v":134.1},{"b":"l","i":98,"v":134.8},{"b":"l","i":106,"v":134.1},{"b":"l","i":111,"v":126.8},{"b":"l","i":118,"v":121.0},{"b":"l","i":124,"v":116.6},{"b":"l","i":129,"v":113.7},{"b":"l","i":132,"v":111.1},{"b":"l","i":139,"v":112.2},{"b":"l","i":148,"v":113.7},{"b":"l","i":156,"v":112.9},{"b":"l","i":167,"v":114.0},{"b":"l","i":174,"v":115.5},{"b":"l","i":182,"v":112.2},{"b":"l","i":189,"v":103.8},{"b":"l","i":195,"v":96.5},{"b":"l","i":202,"v":86.7},{"b":"l","i":208,"v":82.0},{"b":"l","i":213,"v":84.5},{"b":"l","i":218,"v":90.3},{"b":"l","i":222,"v":94.0},{"b":"l","i":225,"v":95.8},{"b":"l","i":235,"v":96.5},{"b":"l","i":251,"v":97.2},{"b":"l","i":266,"v":96.5},{"b":"l","i":284,"v":94.7}
],
"fr":[
{"k":"u","i":6,"v":171.0},{"k":"u","i":9,"v":171.6},{"k":"u","i":19,"v":159.8},{"k":"u","i":24,"v":159.6},{"k":"u","i":30,"v":158.4},{"k":"u","i":34,"v":160.6},{"k":"u","i":46,"v":152.4},{"k":"u","i":50,"v":150.6},{"k":"u","i":59,"v":146.6},{"k":"u","i":68,"v":140.8},{"k":"u","i":74,"v":140.0},{"k":"u","i":85,"v":141.6},{"k":"u","i":88,"v":143.8},{"k":"u","i":92,"v":146.3},{"k":"u","i":95,"v":146.3},{"k":"u","i":104,"v":140.3},{"k":"u","i":119,"v":126.6},{"k":"u","i":127,"v":123.3},{"k":"u","i":130,"v":122.3},{"k":"u","i":135,"v":125.0},{"k":"u","i":141,"v":124.0},{"k":"u","i":149,"v":123.8},{"k":"u","i":162,"v":128.4},{"k":"u","i":169,"v":133.0},{"k":"u","i":177,"v":126.8},{"k":"u","i":186,"v":113.5},{"k":"u","i":189,"v":113.8},{"k":"u","i":208,"v":111.3},{"k":"u","i":221,"v":115.0},{"k":"u","i":230,"v":108.2},{"k":"u","i":236,"v":108.2},{"k":"u","i":240,"v":108.2},{"k":"u","i":245,"v":107.5},{"k":"u","i":250,"v":107.5},{"k":"u","i":253,"v":107.5},{"k":"u","i":258,"v":107.5},{"k":"u","i":267,"v":106.0},
{"k":"d","i":1,"v":159.5},{"k":"d","i":18,"v":150.8},{"k":"d","i":22,"v":151.3},{"k":"d","i":27,"v":148.8},{"k":"d","i":32,"v":148.0},{"k":"d","i":41,"v":141.7},{"k":"d","i":56,"v":138.6},{"k":"d","i":66,"v":133.9},{"k":"d","i":69,"v":134.1},{"k":"d","i":84,"v":128.8},{"k":"d","i":99,"v":132.3},{"k":"d","i":108,"v":125.3},{"k":"d","i":114,"v":118.6},{"k":"d","i":122,"v":115.4},{"k":"d","i":129,"v":114.4},{"k":"d","i":132,"v":111.8},{"k":"d","i":145,"v":112.3},{"k":"d","i":154,"v":110.4},{"k":"d","i":160,"v":112.0},{"k":"d","i":170,"v":122.0},{"k":"d","i":175,"v":116.4},{"k":"d","i":185,"v":104.4},{"k":"d","i":197,"v":89.3},{"k":"d","i":200,"v":88.4},{"k":"d","i":211,"v":94.6},{"k":"d","i":225,"v":99.4},{"k":"d","i":232,"v":97.2},{"k":"d","i":242,"v":95.8},{"k":"d","i":265,"v":97.0},{"k":"d","i":275,"v":92.0}
],
"tl":[{"i":87.7,"v":145.4,"i2":292.5,"v2":106.5},{"i":222.2,"v":112.2,"i2":292.5,"v2":100.2},{"i":219.1,"v":99.1,"i2":292.5,"v2":90.3}],
"ylab":[{"i":294.5,"v":172.8,"t":"172.80"},{"i":294.5,"v":163.2,"t":"163.20"},{"i":294.5,"v":153.6,"t":"153.60"},{"i":294.5,"v":144.0,"t":"144.00"},{"i":294.5,"v":134.4,"t":"134.40"},{"i":294.5,"v":124.8,"t":"124.80"},{"i":294.5,"v":115.2,"t":"115.20"},{"i":294.5,"v":105.6,"t":"105.60"},{"i":294.5,"v":96.0,"t":"96.00"},{"i":294.5,"v":86.4,"t":"86.40"}],
"mlab":[{"i":294.5,"v":3.576,"t":"3.576"},{"i":294.5,"v":0,"t":"0.000"},{"i":294.5,"v":-7.636,"t":"-7.636"}],
"rlab":[{"i":294.5,"v":100,"t":"100"},{"i":294.5,"v":70,"t":"70"},{"i":294.5,"v":30,"t":"30"},{"i":294.5,"v":0,"t":"0"}]
},
"vconcat":[
{
"width":953,"height":287,
"encoding":{"x":{"field":"i","type":"quantitative","title":null,"scale":{"domain":[-0.615,292.615],"nice":false,"zero":false},"axis":{"values":[5.8,24.9,47.7,70.2,91.7,113.2,134.2,156.3,176.3,198.8,219.4,240.9,262.5,284.6],"labels":false,"ticks":false,"domain":false,"grid":true,"title":null}}},
"layer":[
{"data":{"name":"bb"},"mark":{"type":"line","color":"#9c9c9c","strokeWidth":1,"interpolate":"monotone"},"encoding":{"y":{"field":"v","type":"quantitative","title":null,"scale":{"domain":[77.54,182.29],"nice":false,"zero":false},"axis":{"orient":"right","values":[86.4,96,105.6,115.2,124.8,134.4,144,153.6,163.2,172.8],"labels":false,"grid":true,"title":null}},"detail":{"field":"b"}}},
{"data":{"name":"ma"},"mark":{"type":"line","color":"#2a2ad2","strokeWidth":1.4,"interpolate":"monotone"},"encoding":{"y":{"field":"v","type":"quantitative","title":null}}},
{"data":{"name":"tl"},"mark":{"type":"rule","color":"#111111","strokeWidth":1.2},"encoding":{"y":{"field":"v","type":"quantitative","title":null},"x2":{"field":"i2"},"y2":{"field":"v2"}}},
{"data":{"name":"c"},"mark":{"type":"point","shape":"circle","filled":true,"size":3,"color":"#e21c1c","opacity":1},"encoding":{"y":{"field":"s","type":"quantitative","title":null}}},
{"data":{"name":"c"},"mark":{"type":"rule","color":"#000000","strokeWidth":0.8},"encoding":{"y":{"field":"l","type":"quantitative","title":null},"y2":{"field":"h"}}},
{"data":{"name":"c"},"mark":{"type":"bar","width":2.2,"stroke":"#000000","strokeWidth":0.5},"encoding":{"y":{"field":"o","type":"quantitative","title":null},"y2":{"field":"c"},"fill":{"condition":{"test":"datum.c >= datum.o","value":"#ffffff"},"value":"#000000"}}},
{"data":{"name":"fr"},"transform":[{"filter":"datum.k == 'u'"}],"mark":{"type":"point","shape":"M0,-1L0.7,-0.1L0.25,-0.1L0.25,1L-0.25,1L-0.25,-0.1L-0.7,-0.1Z","filled":true,"size":64,"fill":"#aee9c6","stroke":"#3fae6e","strokeWidth":0.6,"opacity":1},"encoding":{"y":{"field":"v","type":"quantitative","title":null}}},
{"data":{"name":"fr"},"transform":[{"filter":"datum.k == 'd'"}],"mark":{"type":"point","shape":"M0,1L0.7,0.1L0.25,0.1L0.25,-1L-0.25,-1L-0.25,0.1L-0.7,0.1Z","filled":true,"size":64,"fill":"#ffc3cf","stroke":"#e0426a","strokeWidth":0.6,"opacity":1},"encoding":{"y":{"field":"v","type":"quantitative","title":null}}},
{"data":{"values":[{"i":290.4,"v":110.0,"v2":121.0}]},"mark":{"type":"rule","color":"#000000","strokeWidth":1.6},"encoding":{"y":{"field":"v","type":"quantitative","title":null},"y2":{"field":"v2"}}},
{"data":{"values":[{"i":290.4,"v":121.8}]},"mark":{"type":"point","shape":"triangle-up","filled":true,"size":40,"color":"#000000","opacity":1},"encoding":{"y":{"field":"v","type":"quantitative","title":null}}},
{"data":{"name":"ylab"},"mark":{"type":"text","align":"left","baseline":"middle","fontSize":7.5,"fontStyle":"italic","color":"#1a1a1a"},"encoding":{"y":{"field":"v","type":"quantitative","title":null},"text":{"field":"t"}}},
{"data":{"values":[{"i":293.7,"i2":305.8,"v":101.6,"v2":104.5}]},"mark":{"type":"rect","color":"#c4c4c8"},"encoding":{"y":{"field":"v","type":"quantitative","title":null},"x2":{"field":"i2"},"y2":{"field":"v2"}}},
{"data":{"values":[{"i":294.6,"v":103.05,"t":"103.80"}]},"mark":{"type":"text","align":"left","baseline":"middle","fontSize":7,"fontStyle":"italic","color":"#f4f4f4"},"encoding":{"y":{"field":"v","type":"quantitative","title":null},"text":{"field":"t"}}},
{"data":{"values":[{"i":0.6,"v":180.5,"t":"#C-ORANGE, D1"}]},"mark":{"type":"text","align":"left","baseline":"middle","fontSize":8,"fontStyle":"italic","color":"#222222"},"encoding":{"y":{"field":"v","type":"quantitative","title":null},"text":{"field":"t"}}},
{"data":{"values":[{"i":45.5,"v":164.0,"t":"ParabolicSAR (0.02, 0.2)"},{"i":27.1,"v":137.4,"t":"Fractals"},{"i":150.8,"v":149.1,"t":"MA (200)"},{"i":77.5,"v":109.3,"t":"Bollinger Bands (16,2.1)"}]},"mark":{"type":"text","align":"left","baseline":"middle","fontSize":10.5,"fontWeight":"bold","color":"#111111"},"encoding":{"y":{"field":"v","type":"quantitative","title":null},"text":{"field":"t"}}},
{"data":{"values":[{"i":208.3,"v":168.4,"t":"Orange: D1"}]},"mark":{"type":"text","align":"left","baseline":"middle","fontSize":17.5,"fontWeight":"bold","color":"#111111"},"encoding":{"y":{"field":"v","type":"quantitative","title":null},"text":{"field":"t"}}},
{"data":{"values":[{"i":273.2,"v":111.5,"t":"109,5"},{"i":279.4,"v":88.5,"t":"90,5"}]},"mark":{"type":"text","align":"left","baseline":"middle","fontSize":11,"fontWeight":"bold","color":"#111111"},"encoding":{"y":{"field":"v","type":"quantitative","title":null},"text":{"field":"t"}}}
]
},
{
"width":953,"height":72,
"encoding":{"x":{"field":"i","type":"quantitative","title":null,"scale":{"domain":[-0.615,292.615],"nice":false,"zero":false},"axis":{"values":[5.8,24.9,47.7,70.2,91.7,113.2,134.2,156.3,176.3,198.8,219.4,240.9,262.5,284.6],"labels":false,"ticks":false,"domain":false,"grid":true,"title":null}}},
"layer":[
{"data":{"name":"c"},"mark":{"type":"bar","width":1,"color":"#5656d4"},"encoding":{"y":{"field":"m","type":"quantitative","title":null,"scale":{"domain":[-8.15,4.15],"nice":false,"zero":false},"axis":{"orient":"right","values":[3.576,0,-7.636],"labels":false,"grid":true,"title":null}},"y2":{"datum":0}}},
{"data":{"name":"sig"},"mark":{"type":"line","color":"#d81c1c","strokeWidth":1.6,"interpolate":"monotone"},"encoding":{"y":{"field":"v","type":"quantitative","title":null}}},
{"data":{"name":"mlab"},"mark":{"type":"text","align":"left","baseline":"middle","fontSize":7.5,"fontStyle":"italic","color":"#1a1a1a"},"encoding":{"y":{"field":"v","type":"quantitative","title":null},"text":{"field":"t"}}},
{"data":{"values":[{"i":6.2,"v":-6.1,"t":"MACD (16, 29, 9)"}]},"mark":{"type":"text","align":"left","baseline":"middle","fontSize":10.5,"fontWeight":"bold","color":"#111111"},"encoding":{"y":{"field":"v","type":"quantitative","title":null},"text":{"field":"t"}}}
]
},
{
"width":953,"height":78,
"encoding":{"x":{"field":"i","type":"quantitative","title":null,"scale":{"domain":[-0.615,292.615],"nice":false,"zero":false},"axis":{"orient":"bottom","values":[5.8,24.9,47.7,70.2,91.7,113.2,134.2,156.3,176.3,198.8,219.4,240.9,262.5,284.6],"labelExpr":"['31 Jul 2018','29 Aug','28 Sep','29 Oct','28 Nov','28 Dec','31 Jan 2019','04 Mar','02 Apr','02 May','03 Jun','02 Jul','01 Aug','30 Aug'][indexof([5.8,24.9,47.7,70.2,91.7,113.2,134.2,156.3,176.3,198.8,219.4,240.9,262.5,284.6],datum.value)]","labelAlign":"left","labelPadding":5,"labelFontSize":8,"labelOverlap":false,"ticks":false,"grid":true,"domain":true,"domainColor":"#a8a8a8","domainDash":[4,3],"title":null}}},
"layer":[
{"data":{"name":"c"},"mark":{"type":"line","color":"#e36a6a","strokeWidth":0.9},"encoding":{"y":{"field":"r","type":"quantitative","title":null,"scale":{"domain":[-5.8,107.2],"nice":false,"zero":false},"axis":{"orient":"right","values":[0,30,70,100],"labels":false,"grid":true,"title":null}}}},
{"data":{"name":"rlab"},"mark":{"type":"text","align":"left","baseline":"middle","fontSize":7.5,"fontStyle":"italic","color":"#1a1a1a"},"encoding":{"y":{"field":"v","type":"quantitative","title":null},"text":{"field":"t"}}},
{"data":{"values":[{"i":50.2,"v":59.4,"t":"RSI (10)"}]},"mark":{"type":"text","align":"left","baseline":"middle","fontSize":10.5,"fontWeight":"bold","color":"#111111"},"encoding":{"y":{"field":"v","type":"quantitative","title":null},"text":{"field":"t"}}},
{"data":{"values":[{"i":297.5,"v":-19.5,"t":"[.|.]"}]},"mark":{"type":"text","align":"left","baseline":"middle","fontSize":7.5,"fontStyle":"italic","color":"#222222"},"encoding":{"y":{"field":"v","type":"quantitative","title":null},"text":{"field":"t"}}}
]
}
],
"resolve":{"scale":{"x":"independent","y":"independent"}},
"config":{
"view":{"stroke":"#8a8a8a","strokeWidth":1,"fill":"#f7f7fd"},
"axis":{"labelFont":"DejaVu Sans","labelFontSize":7.5,"labelFontStyle":"italic","labelColor":"#1a1a1a","labelOverlap":false,"ticks":false,"gridColor":"#dcdce8","gridWidth":1.2,"domainColor":"#000000","domainWidth":1},
"text":{"font":"DejaVu Sans"}
}
}
